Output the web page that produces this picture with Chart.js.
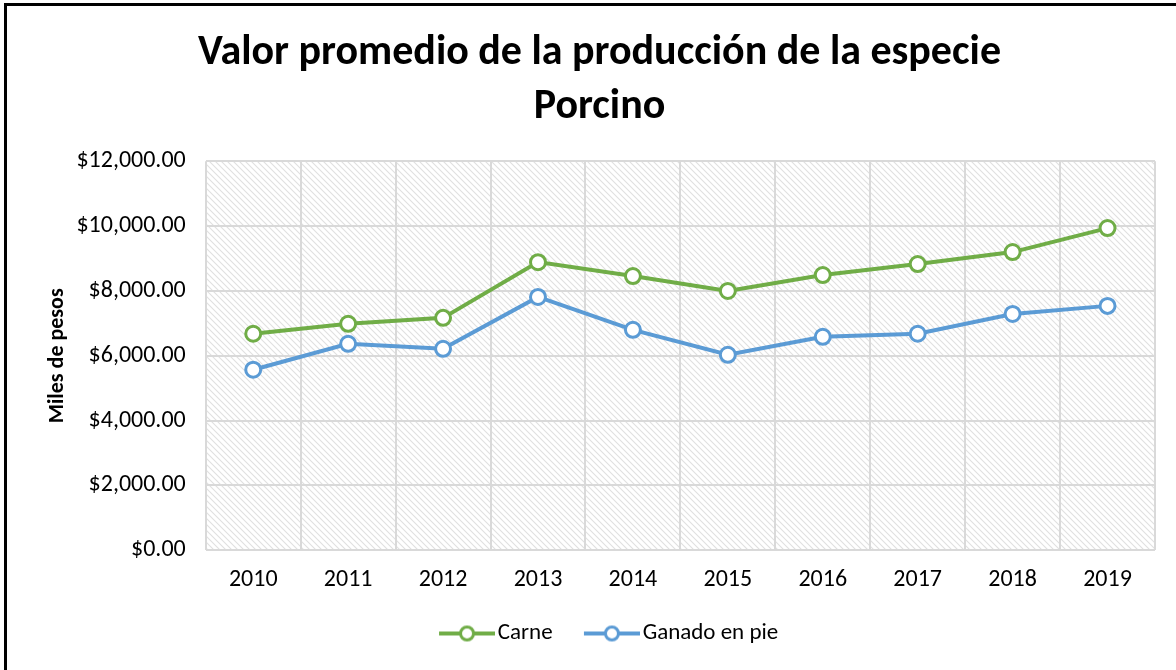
<!DOCTYPE html>
<html>
<head>
<meta charset="utf-8">
<script src="https://cdn.jsdelivr.net/npm/chart.js@4/dist/chart.umd.min.js"></script>
<style>
  body { margin: 0; background: #fff; }
  #wrap { position: relative; width: 1176px; height: 670px; }
  #frame { position: absolute; left: 4px; top: 3px; right: -10px; bottom: -10px; border: 3px solid #000; }
  canvas { position: absolute; left: 0; top: 0; }
</style>
</head>
<body>
<div id="wrap">
  <div id="frame"></div>
  <canvas id="chart" width="1176" height="670"></canvas>
</div>
<script>
// data
const years = ['2010', '2011', '2012', '2013', '2014', '2015', '2016', '2017', '2018', '2019'];
const carne = [6680, 6985, 7170, 8890, 8460, 8000, 8490, 8830, 9200, 9940];
const ganado = [5570, 6370, 6215, 7815, 6800, 6030, 6585, 6680, 7290, 7540];
const titleLines = ['Valor promedio de la producción de la especie', 'Porcino'];

const FONT = 'Carlito, Calibri, Lato, sans-serif';
const green = '#70ad47';
const blue = '#5b9bd5';

// hatched background for the plot area
function makeHatch() {
    const c = document.createElement('canvas');
    c.width = 6; c.height = 6;
    const g = c.getContext('2d');
    g.fillStyle = '#fff';
    g.fillRect(0, 0, 6, 6);
    g.strokeStyle = '#e0e0e0';
    g.lineWidth = 1.1;
    g.beginPath();
    g.moveTo(-1, -1); g.lineTo(7, 7);
    g.moveTo(-1, 5); g.lineTo(1, 7);
    g.moveTo(5, -1); g.lineTo(7, 1);
    g.stroke();
    return c;
}

// legend marker: line with open circle, shifted right inside the image
// so that it sits close to its label text
function legendMarker(color) {
    const c = document.createElement('canvas');
    c.width = 83; c.height = 20;
    const g = c.getContext('2d');
    g.strokeStyle = color;
    g.lineWidth = 4;
    g.beginPath();
    g.moveTo(27, 10); g.lineTo(83, 10);
    g.stroke();
    g.beginPath();
    g.arc(55, 10, 6.5, 0, Math.PI * 2);
    g.fillStyle = '#fff';
    g.fill();
    g.lineWidth = 3;
    g.stroke();
    return c;
}

const hatchPlugin = {
    id: 'hatch',
    beforeDraw(chart) {
        const a = chart.chartArea;
        const ctx = chart.ctx;
        ctx.save();
        ctx.fillStyle = ctx.createPattern(makeHatch(), 'repeat');
        ctx.fillRect(a.left, a.top, a.right - a.left, a.bottom - a.top);
        ctx.restore();
    }
};

const markers = [legendMarker(green), legendMarker(blue)];

new Chart(document.getElementById('chart'), {
    type: 'line',
    data: {
        labels: years,
        datasets: [
            {
                label: 'Carne',
                data: carne,
                borderColor: green,
                backgroundColor: '#fff',
                borderWidth: 4,
                pointRadius: 7.5,
                pointBorderWidth: 3,
                pointBackgroundColor: '#fff',
                pointBorderColor: green
            },
            {
                label: 'Ganado en pie',
                data: ganado,
                borderColor: blue,
                backgroundColor: '#fff',
                borderWidth: 4,
                pointRadius: 7.5,
                pointBorderWidth: 3,
                pointBackgroundColor: '#fff',
                pointBorderColor: blue
            }
        ]
    },
    options: {
        responsive: false,
        animation: false,
        layout: { padding: { left: 44, right: 21, top: 26, bottom: 15 } },
        plugins: {
            title: {
                display: true,
                text: titleLines,
                color: '#000',
                font: { family: FONT, size: 42, weight: 'bold', lineHeight: 1.29 },
                padding: { top: 0, bottom: 27 }
            },
            legend: {
                position: 'bottom',
                labels: {
                    color: '#000',
                    font: { family: FONT, size: 23 },
                    usePointStyle: true,
                    pointStyleWidth: 65.5,
                    padding: 13,
                    generateLabels(chart) {
                        const items = Chart.defaults.plugins.legend.labels.generateLabels(chart);
                        items.forEach((it, i) => { it.pointStyle = markers[i]; });
                        return items;
                    }
                }
            },
            tooltip: { enabled: false }
        },
        scales: {
            x: {
                offset: true,
                grid: { offset: true, color: '#d9d9d9', lineWidth: 2, drawTicks: false },
                border: { display: false },
                ticks: { color: '#000', font: { family: FONT, size: 24 }, padding: 15 }
            },
            y: {
                min: 0,
                max: 12000,
                grid: { color: '#d9d9d9', lineWidth: 2, drawTicks: false },
                border: { display: false },
                title: {
                    display: true,
                    text: 'Miles de pesos',
                    color: '#000',
                    font: { family: FONT, size: 22, weight: 'bold' },
                    padding: { top: 0, bottom: -14 }
                },
                ticks: {
                    stepSize: 2000,
                    color: '#000',
                    font: { family: FONT, size: 24 },
                    padding: 20,
                    callback: v => '$' + v.toLocaleString('en-US', { minimumFractionDigits: 2, maximumFractionDigits: 2 })
                }
            }
        }
    },
    plugins: [hatchPlugin]
});
</script>
</body>
</html>
